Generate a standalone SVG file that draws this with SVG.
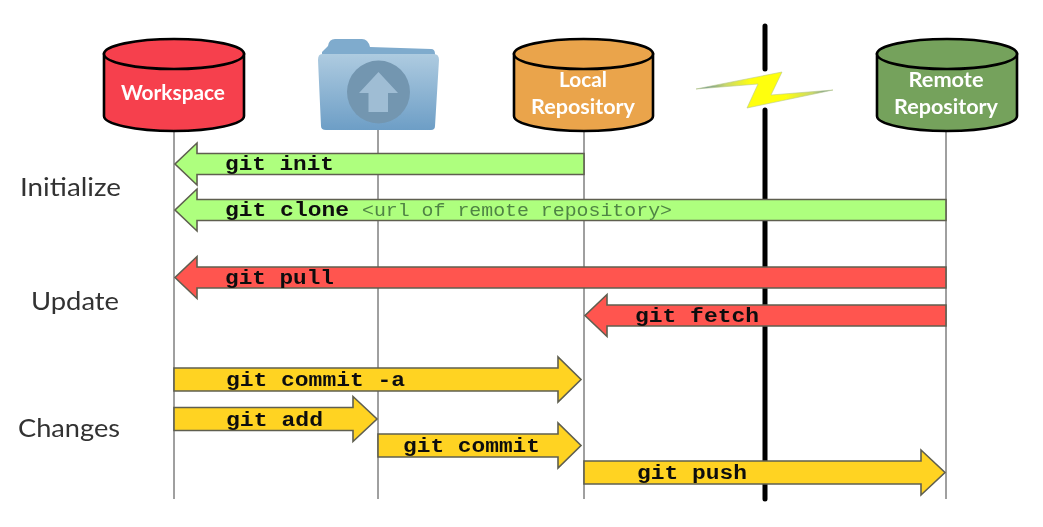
<svg xmlns="http://www.w3.org/2000/svg" width="1043" height="527" viewBox="0 0 1043 527">
<style>
.life{stroke:#6e6e6e;stroke-width:1.3;fill:none}
.cyl{stroke:#000;stroke-width:2.6}
.cap{font-family:Lato,"Open Sans",sans-serif;font-weight:700;font-size:20px;fill:#fff;text-anchor:middle}
.sec{font-family:Lato,"Open Sans",sans-serif;font-size:25px;fill:#333}
.arr{stroke:#5f5f50;stroke-width:1.6}
.green{fill:#aeff7e}.red{fill:#ff5450}.yellow{fill:#ffd324}
.cmd{font-family:"Liberation Mono",monospace;font-weight:700;font-size:20px;fill:#111}
.arg{font-family:"Liberation Mono",monospace;font-size:18px;fill:#4f8444}
</style>
<defs>
<linearGradient id="folderG" x1="0" y1="0" x2="0" y2="1"><stop offset="0" stop-color="#aecbe0"/><stop offset="1" stop-color="#6d9ec6"/></linearGradient>
<linearGradient id="boltG" x1="0" y1="0" x2="1" y2="0"><stop offset="0" stop-color="#3c70b0"/><stop offset=".22" stop-color="#c9d86a"/><stop offset=".4" stop-color="#ffff10"/><stop offset=".65" stop-color="#ffff10"/><stop offset=".85" stop-color="#c9d86a"/><stop offset="1" stop-color="#3c70b0"/></linearGradient>
<filter id="soft" x="-2%" y="-2%" width="104%" height="104%"><feGaussianBlur stdDeviation="0.55"/></filter>
</defs>
<rect width="1043" height="527" fill="#fff"/>
<g filter="url(#soft)">
<g id="connectors">
<path class="life" d="M174 130V499M378 130V499M584 130V499M946 130V499"/>
<path d="M765 26V69M765 110V499" stroke="#000" stroke-width="5" stroke-linecap="round" fill="none"/>
<g id="arrow-init"><path class="arr green" d="M584 153.500H197V143L175 164L197 185V174.500H584Z"/><text class="cmd" x="225" y="170" textLength="109" lengthAdjust="spacingAndGlyphs">git init</text></g>
<g id="arrow-clone"><path class="arr green" d="M946 199.500H197V189L175 210L197 231V220.500H946Z"/><text class="cmd" x="225" y="216" textLength="124" lengthAdjust="spacingAndGlyphs">git clone</text><text class="arg" x="362" y="216" textLength="310" lengthAdjust="spacingAndGlyphs">&lt;url of remote repository&gt;</text></g>
<g id="arrow-pull"><path class="arr red" d="M946 267H197V256.500L175 277.500L197 298.500V288H946Z"/><text class="cmd" x="225" y="284" textLength="109" lengthAdjust="spacingAndGlyphs">git pull</text></g>
<g id="arrow-fetch"><path class="arr red" d="M946 305H607V294.500L585 315.500L607 336.500V326H946Z"/><text class="cmd" x="635" y="322" textLength="124" lengthAdjust="spacingAndGlyphs">git fetch</text></g>
<g id="arrow-commit-a"><path class="arr yellow" d="M174 368H558V357L581 379.500L558 402V391H174Z"/><text class="cmd" x="226" y="386" textLength="179" lengthAdjust="spacingAndGlyphs">git commit -a</text></g>
<g id="arrow-add"><path class="arr yellow" d="M174 407.500H353V396.500L377 419L353 441.500V430.500H174Z"/><text class="cmd" x="226" y="426" textLength="97" lengthAdjust="spacingAndGlyphs">git add</text></g>
<g id="arrow-commit"><path class="arr yellow" d="M378 434H558V423L581 445.500L558 468V457H378Z"/><text class="cmd" x="403" y="452" textLength="137" lengthAdjust="spacingAndGlyphs">git commit</text></g>
<g id="arrow-push"><path class="arr yellow" d="M584 461H921V450L945 472.500L921 495V484H584Z"/><text class="cmd" x="637" y="479" textLength="110" lengthAdjust="spacingAndGlyphs">git push</text></g>
</g>
<g id="workspace"><path class="cyl" fill="#f6404e" d="M104 54V116C104 124 135 131 174 131S244 124 244 116V54Z"/><ellipse class="cyl" fill="#f6404e" cx="174" cy="54" rx="70" ry="15"/><text class="cap" x="173" y="100" textLength="104" lengthAdjust="spacingAndGlyphs">Workspace</text></g>
<g id="stash">
<path d="M328 46Q329 39 335 39H362Q368 39 370 47L431 49Q435 49 435 54V60H322V52Z" fill="#7fabcd"/>
<path d="M322 54H434Q439 54 439 60L435 126Q435 130 431 130H326Q321 130 321 126L318 60Q318 54 322 54Z" fill="url(#folderG)"/>
<circle cx="378.500" cy="92" r="31.500" fill="#7396b0"/>
<path d="M378.500 72L398 93H388V112H368.500V93H359Z" fill="#9fbdd4"/>
</g>
<g id="local"><path class="cyl" fill="#eaa44c" d="M514 54V116C514 124 545 131 584 131S653 124 653 116V54Z"/><ellipse class="cyl" fill="#eaa44c" cx="583.500" cy="54" rx="69.500" ry="15"/><text class="cap" x="583" y="87" textLength="48" lengthAdjust="spacingAndGlyphs">Local</text><text class="cap" x="583" y="114" textLength="104" lengthAdjust="spacingAndGlyphs">Repository</text></g>
<g id="bolt"><path d="M696 89L782 72L771 95L833 90L747 108L758 84Z" fill="url(#boltG)" stroke="#b8c98a" stroke-width=".6"/></g>
<g id="remote"><path class="cyl" fill="#75a25c" d="M877 54V116C877 124 908 131 947 131S1017 124 1017 116V54Z"/><ellipse class="cyl" fill="#75a25c" cx="947" cy="54" rx="70" ry="15"/><text class="cap" x="946" y="87" textLength="75" lengthAdjust="spacingAndGlyphs">Remote</text><text class="cap" x="946" y="114" textLength="104" lengthAdjust="spacingAndGlyphs">Repository</text></g>
<g id="sections">
<text class="sec" x="20" y="196" textLength="101" lengthAdjust="spacingAndGlyphs">Initialize</text>
<text class="sec" x="31" y="310" textLength="88" lengthAdjust="spacingAndGlyphs">Update</text>
<text class="sec" x="18" y="437" textLength="102" lengthAdjust="spacingAndGlyphs">Changes</text>
</g>
</g>
</svg>
